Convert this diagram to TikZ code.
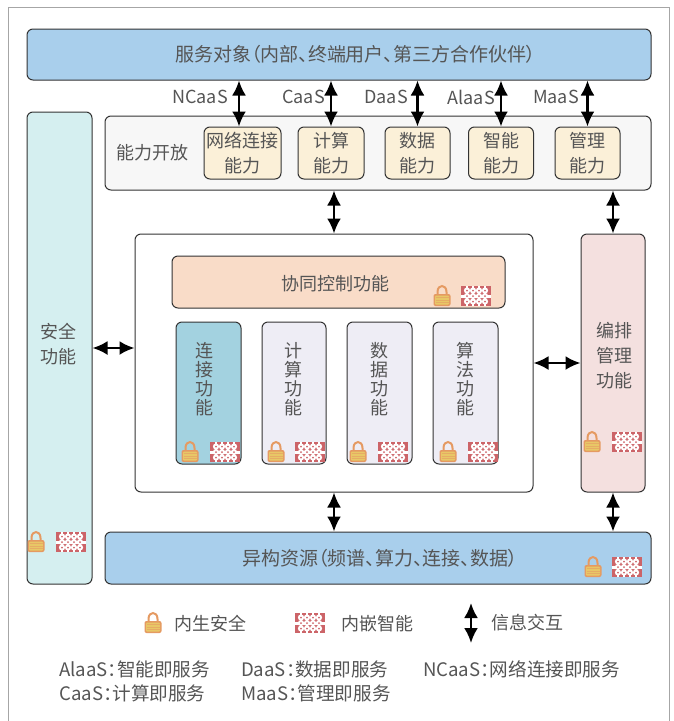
\documentclass[tikz,border=0pt]{standalone}
\usepackage{fontspec}
\setmainfont[RawFeature=+palt]{Noto Sans CJK SC}
\usetikzlibrary{arrows.meta}
\definecolor{bluebox}{HTML}{A9CFEC}
\definecolor{greybox}{HTML}{F7F7F7}
\definecolor{creambox}{HTML}{FBF0D8}
\definecolor{safebox}{HTML}{D5EFF0}
\definecolor{peachbox}{HTML}{F9DCC8}
\definecolor{tealbox}{HTML}{A3D2E0}
\definecolor{lilacbox}{HTML}{EEEDF5}
\definecolor{rosebox}{HTML}{F4E0DF}
\definecolor{textgrey}{HTML}{555555}
\definecolor{chipred}{HTML}{CC6468}
\definecolor{lockedge}{HTML}{E59A62}
\definecolor{lockbody}{HTML}{E8C766}
\tikzset{
	box/.style={draw=black!80, line width=1pt, rounded corners=6pt, inner sep=0pt, align=center, text=textgrey, font=\fontsize{18}{25}\selectfont},
	label/.style={inner sep=0pt, text=textgrey, align=center, font=\fontsize{18}{25}\selectfont},
	wide/.style={label, font=\fontsize{19}{25}\selectfont},
	stacked/.style={label, font=\fontsize{18}{19}\selectfont},
	note/.style={label, anchor=west},
	smallnote/.style={note, font=\fontsize{18.6}{25}\selectfont},
	biarrow/.style={<->, >={Latex[width=14pt,length=15pt]}, line width=2.4pt, black},
	lockicon/.pic={
		\draw[draw=lockedge, line width=2pt] (-4.5,0) -- (-4.5,-4) .. controls (-4.5,-12) and (4.5,-12) .. (4.5,-4) -- (4.5,0);
		\fill[lockedge, rounded corners=2pt] (-8.5,-2) rectangle (8.5,10);
		\fill[lockbody, rounded corners=1pt] (-7,-.5) rectangle (7,8.5);
		\foreach \k in {1.5,4,6.5}
			\draw[lockedge!60!lockbody, line width=.4pt] (-6.5,\k) -- (6.5,\k);
	},
	chipicon/.pic={
		\fill[chipred] (-15,-10) rectangle (15,10);
		\fill[white] (-15,-1.5) rectangle (15,1.5);
		\foreach \i in {-9,-3,3,9}
			\fill[white] (\i-.8,-10) rectangle (\i+.8,10);
		\foreach \i in {-9,-3,3,9}
			\foreach \j in {-5.5,0,5.5}
				\fill[white] (\i,\j) circle (3.1pt);
		\foreach \i in {-9,-3,3,9}
			\foreach \j in {-5.5,0,5.5}
				\fill[chipred] (\i,\j) circle (1pt);
	}
}
\begin{document}
\begin{tikzpicture}[x=1pt, y=-1pt]
	\useasboundingbox (0,0) rectangle (673,721);
	\fill[white] (0,0) rectangle (673,721);
	\draw[black!35, line width=.8pt] (8,721) -- (8,7) -- (669,7) -- (669,721);

	% Riquadri principali
	\node[box, fill=bluebox, minimum width=624pt, minimum height=51pt] (svc) at (339,54.5) {};
	\node[wide] (svctext) at (355.5,54) {服务对象（内部、终端用户、第三方合作伙伴）};
	\node[box, fill=greybox, minimum width=546pt, minimum height=74pt] (open) at (378,153) {};
	\node[label] (opentext) at (152,153) {能力开放};
	\node[box, fill=safebox, minimum width=65pt, minimum height=472pt] (safe) at (59.5,348) {};
	\node[label] (safetext) at (59,344) {安全\\功能};
	\node[box, fill=white, minimum width=398pt, minimum height=258pt] (core) at (334,363) {};
	\node[box, fill=rosebox, minimum width=64pt, minimum height=258pt] (orch) at (613,363) {};
	\node[label] (orchtext) at (614,356) {编排\\管理\\功能};
	\node[box, fill=bluebox, minimum width=546pt, minimum height=52pt] (res) at (378,558) {};
	\node[wide] (restext) at (380,558) {异构资源（频谱、算力、连接、数据）};

	% Capacita esposte
	\node[box, fill=creambox, minimum width=77pt, minimum height=52pt] (net) at (242.5,153) {网络连接\\能力};
	\node[box, fill=creambox, minimum width=66pt, minimum height=52pt] (comp) at (331,153) {计算\\能力};
	\node[box, fill=creambox, minimum width=65pt, minimum height=52pt] (dat) at (417.5,153) {数据\\能力};
	\node[box, fill=creambox, minimum width=65pt, minimum height=52pt] (intel) at (501,153) {智能\\能力};
	\node[box, fill=creambox, minimum width=65pt, minimum height=52pt] (mgmt) at (587.5,153) {管理\\能力};

	% Funzioni interne
	\node[box, fill=peachbox, minimum width=333pt, minimum height=52pt] (collab) at (338.5,282) {};
	\node[label] (collabtext) at (335,284) {协同控制功能};
	\node[box, fill=tealbox, minimum width=65pt, minimum height=142pt] (conn) at (208.5,393) {};
	\node[box, fill=lilacbox, minimum width=64pt, minimum height=142pt] (fcomp) at (294,393) {};
	\node[box, fill=lilacbox, minimum width=65pt, minimum height=142pt] (fdat) at (379.5,393) {};
	\node[box, fill=lilacbox, minimum width=65pt, minimum height=142pt] (falgo) at (465.5,393) {};
	\node[stacked] (conntext) at (204,379) {连\\接\\功\\能};
	\node[stacked] (comptext) at (293,379) {计\\算\\功\\能};
	\node[stacked] (dattext) at (379,379) {数\\据\\功\\能};
	\node[stacked] (algotext) at (465,379) {算\\法\\功\\能};

	% Sigle
	\node[label, anchor=east] (ncaas) at (228,97) {NCaaS};
	\node[label, anchor=east] (caas) at (325,97) {CaaS};
	\node[label, anchor=east] (daas) at (408,97) {DaaS};
	\node[label, anchor=east] (alaas) at (495,97) {AlaaS};
	\node[label, anchor=east] (maas) at (579,97) {MaaS};

	% Frecce
	\coordinate (netx) at (239,0);
	\draw[biarrow] (net.north -| netx) -- (svc.south -| netx);
	\draw[biarrow] (comp.north) -- (comp.north |- svc.south);
	\draw[biarrow] (dat.north) -- (dat.north |- svc.south);
	\draw[biarrow] (intel.north) -- (intel.north |- svc.south);
	\draw[biarrow] (mgmt.north) -- (mgmt.north |- svc.south);
	\draw[biarrow] (open.south -| core.north) -- (core.north);
	\draw[biarrow] (open.south -| orch.north) -- (orch.north);
	\draw[biarrow] (core.south) -- (core.south |- res.north);
	\draw[biarrow] (orch.south) -- (orch.south |- res.north);
	\draw[biarrow] (safe.east) -- (safe.east -| core.west);
	\draw[biarrow] (core.east) -- (orch.west);

	% Icone
	\foreach \lx/\cx/\py in {442/476/296, 190/225/452, 276/310/452, 358/393/452, 448/483/452, 592/627/442, 36/71/542, 593/627/567, 153/310/623} {
		\pic at (\lx,\py) {lockicon};
		\pic at (\cx,\py) {chipicon};
	}

	% Legenda
	\node[note] (inborn) at (174,624) {内生安全};
	\node[note] (embed) at (341,624) {内嵌智能};
	\coordinate (legtop) at (471,603);
	\coordinate (legbot) at (471,643);
	\draw[biarrow] (legtop) -- (legbot);
	\node[note] (info) at (491,623) {信息交互};
	\node[smallnote] (lalaas) at (59,669) {AlaaS：智能即服务};
	\node[smallnote] (lcaas) at (59,693) {CaaS：计算即服务};
	\node[smallnote] (ldaas) at (241,669) {DaaS：数据即服务};
	\node[smallnote] (lmaas) at (241,693) {MaaS：管理即服务};
	\node[smallnote] (lncaas) at (423,669) {NCaaS：网络连接即服务};
\end{tikzpicture}
\end{document}
